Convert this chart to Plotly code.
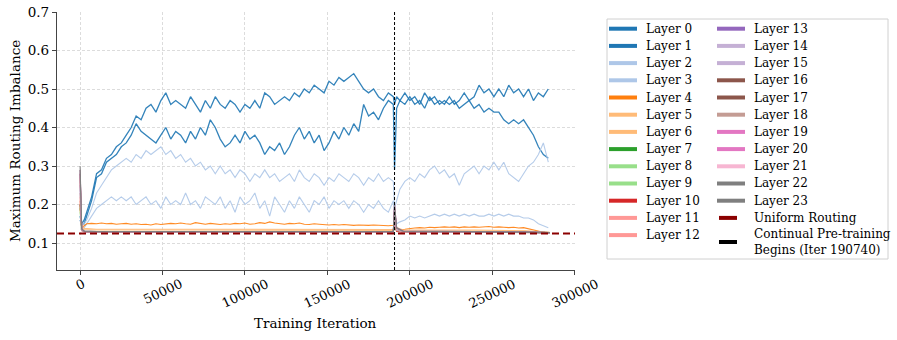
import plotly.graph_objects as go

# iteration grid for the detailed layers (before / after the restart)
iters_pre = [0, 1000, 2500, 4000] + list(range(7000, 190001, 3000))
iters_post = [190740, 192000] + list(range(194000, 284001, 3000))
iters = iters_pre + iters_post

layer0 = [
    0.17, 0.15, 0.16, 0.18, 0.22, 0.28, 0.29, 0.32, 0.33, 0.35, 0.36,
    0.38, 0.40, 0.43, 0.42, 0.45, 0.46, 0.44, 0.47, 0.49, 0.46, 0.47,
    0.46, 0.45, 0.48, 0.46, 0.44, 0.47, 0.45, 0.48, 0.46, 0.45, 0.47,
    0.46, 0.44, 0.46, 0.45, 0.47, 0.45, 0.49, 0.48, 0.46, 0.47, 0.48,
    0.47, 0.49, 0.48, 0.50, 0.49, 0.51, 0.50, 0.49, 0.52, 0.51, 0.53,
    0.52, 0.53, 0.54, 0.52, 0.50, 0.49, 0.50, 0.48, 0.47, 0.49, 0.48,
    0.46, 0.48, 0.47, 0.49, 0.47, 0.48, 0.46, 0.49, 0.47, 0.48, 0.46,
    0.47, 0.46, 0.47, 0.45, 0.46, 0.47, 0.45, 0.46, 0.44, 0.45, 0.44,
    0.44, 0.42, 0.41, 0.42, 0.41, 0.42, 0.40, 0.38, 0.35, 0.33, 0.32,
]
layer1 = [
    0.16, 0.15, 0.15, 0.17, 0.21, 0.27, 0.28, 0.31, 0.32, 0.33, 0.35,
    0.36, 0.38, 0.41, 0.39, 0.38, 0.37, 0.36, 0.38, 0.40, 0.37, 0.39,
    0.38, 0.36, 0.39, 0.37, 0.40, 0.38, 0.42, 0.40, 0.37, 0.35, 0.36,
    0.38, 0.36, 0.39, 0.37, 0.38, 0.36, 0.33, 0.35, 0.34, 0.36, 0.33,
    0.35, 0.38, 0.40, 0.37, 0.39, 0.36, 0.38, 0.34, 0.36, 0.39, 0.37,
    0.40, 0.38, 0.41, 0.39, 0.46, 0.43, 0.44, 0.42, 0.45, 0.47, 0.46,
    0.29, 0.45, 0.47, 0.46, 0.48, 0.46, 0.47, 0.45, 0.48, 0.46, 0.47,
    0.46, 0.48, 0.46, 0.47, 0.49, 0.47, 0.48, 0.51, 0.49, 0.50, 0.48,
    0.50, 0.48, 0.51, 0.49, 0.50, 0.48, 0.50, 0.47, 0.49, 0.48, 0.50,
]
layer2 = [
    0.17, 0.15, 0.15, 0.16, 0.19, 0.23, 0.25, 0.27, 0.29, 0.30, 0.31,
    0.32, 0.31, 0.33, 0.32, 0.34, 0.33, 0.34, 0.35, 0.33, 0.34, 0.32,
    0.33, 0.31, 0.32, 0.30, 0.31, 0.29, 0.30, 0.28, 0.30, 0.28, 0.29,
    0.27, 0.29, 0.28, 0.26, 0.28, 0.27, 0.29, 0.27, 0.28, 0.26, 0.27,
    0.28, 0.26, 0.29, 0.27, 0.26, 0.28, 0.27, 0.25, 0.27, 0.26, 0.28,
    0.27, 0.26, 0.28, 0.27, 0.25, 0.27, 0.26, 0.28, 0.26, 0.27, 0.26,
    0.19, 0.21, 0.24, 0.26, 0.27, 0.26, 0.28, 0.27, 0.29, 0.30, 0.28,
    0.29, 0.27, 0.28, 0.25, 0.28, 0.29, 0.30, 0.28, 0.30, 0.29, 0.31,
    0.29, 0.31, 0.28, 0.27, 0.26, 0.28, 0.30, 0.31, 0.33, 0.36, 0.31,
]
layer3 = [
    0.16, 0.14, 0.14, 0.15, 0.17, 0.19, 0.20, 0.21, 0.22, 0.21, 0.22,
    0.21, 0.22, 0.20, 0.21, 0.22, 0.20, 0.21, 0.19, 0.22, 0.20, 0.21,
    0.20, 0.23, 0.20, 0.21, 0.19, 0.22, 0.21, 0.20, 0.22, 0.19, 0.21,
    0.18, 0.22, 0.20, 0.21, 0.23, 0.19, 0.21, 0.17, 0.22, 0.20, 0.18,
    0.21, 0.19, 0.22, 0.20, 0.18, 0.21, 0.20, 0.22, 0.19, 0.21, 0.20,
    0.21, 0.19, 0.21, 0.20, 0.18, 0.20, 0.19, 0.21, 0.19, 0.18, 0.21,
    0.17, 0.15, 0.155, 0.16, 0.17, 0.165, 0.17, 0.165, 0.17, 0.175, 0.17,
    0.175, 0.17, 0.175, 0.17, 0.175, 0.17, 0.175, 0.17, 0.17, 0.175, 0.17,
    0.175, 0.17, 0.175, 0.17, 0.17, 0.165, 0.165, 0.16, 0.15, 0.145, 0.14,
]
layer4 = [
    0.19, 0.14, 0.145, 0.15, 0.151, 0.15, 0.152, 0.15, 0.151, 0.149, 0.15,
    0.151, 0.149, 0.15, 0.148, 0.149, 0.147, 0.15, 0.148, 0.149, 0.151, 0.15,
    0.152, 0.15, 0.149, 0.153, 0.15, 0.149, 0.151, 0.15, 0.148, 0.15, 0.149,
    0.151, 0.15, 0.152, 0.149, 0.15, 0.153, 0.151, 0.155, 0.152, 0.15, 0.149,
    0.151, 0.15, 0.152, 0.149, 0.148, 0.15, 0.149, 0.148, 0.147, 0.148, 0.147,
    0.148, 0.147, 0.146, 0.147, 0.146, 0.146, 0.147, 0.146, 0.146, 0.145, 0.146,
    0.16, 0.137, 0.135, 0.136, 0.138, 0.139, 0.14, 0.139, 0.141, 0.14, 0.141,
    0.142, 0.141, 0.142, 0.14, 0.142, 0.141, 0.142, 0.141, 0.142, 0.143, 0.141,
    0.142, 0.141, 0.14, 0.141, 0.139, 0.14, 0.137, 0.133, 0.13, 0.128, 0.127,
]

# the remaining layers sit almost flat just above uniform routing
iters_flat = [0, 1000, 2500, 10000, 60000, 120000, 180000, 190000,
              190740, 192000, 196000, 240000, 270000, 285000]
layer5 = [0.23, 0.145, 0.138, 0.136, 0.136, 0.136, 0.135, 0.135, 0.17, 0.14, 0.134, 0.134, 0.132, 0.128]
layer6 = [0.21, 0.14, 0.135, 0.134, 0.134, 0.134, 0.133, 0.133, 0.16, 0.137, 0.132, 0.132, 0.131, 0.127]
layer7 = [0.20, 0.133, 0.13, 0.129, 0.129, 0.129, 0.129, 0.129, 0.15, 0.132, 0.129, 0.129, 0.128, 0.127]
layer8 = [0.19, 0.134, 0.131, 0.13, 0.13, 0.13, 0.13, 0.13, 0.15, 0.133, 0.13, 0.13, 0.129, 0.127]
layer9 = [0.18, 0.133, 0.13, 0.129, 0.129, 0.129, 0.129, 0.129, 0.14, 0.131, 0.129, 0.129, 0.128, 0.127]
layer10 = [0.20, 0.132, 0.129, 0.128, 0.128, 0.128, 0.128, 0.128, 0.15, 0.13, 0.128, 0.128, 0.128, 0.127]
layer11 = [0.22, 0.134, 0.13, 0.129, 0.129, 0.129, 0.129, 0.129, 0.17, 0.135, 0.13, 0.129, 0.128, 0.127]
layer12 = [0.21, 0.133, 0.13, 0.129, 0.129, 0.129, 0.129, 0.129, 0.16, 0.134, 0.129, 0.129, 0.128, 0.127]
layer13 = [0.25, 0.135, 0.13, 0.129, 0.129, 0.129, 0.129, 0.129, 0.18, 0.136, 0.13, 0.129, 0.128, 0.127]
layer14 = [0.24, 0.134, 0.13, 0.129, 0.129, 0.129, 0.129, 0.129, 0.17, 0.135, 0.13, 0.129, 0.128, 0.127]
layer15 = [0.23, 0.133, 0.129, 0.128, 0.128, 0.128, 0.128, 0.128, 0.16, 0.134, 0.129, 0.128, 0.128, 0.127]
layer16 = [0.28, 0.136, 0.13, 0.129, 0.129, 0.129, 0.129, 0.129, 0.19, 0.137, 0.13, 0.129, 0.128, 0.127]
layer17 = [0.27, 0.135, 0.13, 0.129, 0.129, 0.129, 0.129, 0.129, 0.18, 0.136, 0.13, 0.129, 0.128, 0.127]
layer18 = [0.26, 0.134, 0.13, 0.129, 0.129, 0.129, 0.129, 0.129, 0.18, 0.135, 0.13, 0.129, 0.128, 0.127]
layer19 = [0.29, 0.137, 0.131, 0.13, 0.13, 0.13, 0.13, 0.13, 0.20, 0.14, 0.131, 0.13, 0.129, 0.127]
layer20 = [0.28, 0.136, 0.13, 0.129, 0.129, 0.129, 0.129, 0.129, 0.19, 0.138, 0.13, 0.129, 0.128, 0.127]
layer21 = [0.27, 0.135, 0.13, 0.129, 0.129, 0.129, 0.129, 0.129, 0.18, 0.136, 0.13, 0.129, 0.128, 0.127]
layer22 = [0.30, 0.137, 0.131, 0.13, 0.13, 0.13, 0.13, 0.13, 0.20, 0.14, 0.131, 0.13, 0.129, 0.127]
layer23 = [0.29, 0.136, 0.13, 0.129, 0.129, 0.129, 0.129, 0.129, 0.19, 0.138, 0.13, 0.129, 0.128, 0.127]

detailed = [layer0, layer1, layer2, layer3, layer4]
flat = [layer5, layer6, layer7, layer8, layer9, layer10, layer11, layer12, layer13,
        layer14, layer15, layer16, layer17, layer18, layer19, layer20, layer21,
        layer22, layer23]

layer_colors = ['#1f77b4', '#1f77b4', '#aec7e8', '#aec7e8', '#ff7f0e', '#ffbb78',
                '#ffbb78', '#2ca02c', '#98df8a', '#98df8a', '#d62728', '#ff9896',
                '#ff9896', '#9467bd', '#c5b0d5', '#c5b0d5', '#8c564b', '#8c564b',
                '#c49c94', '#e377c2', '#e377c2', '#f7b6d2', '#7f7f7f', '#7f7f7f']

uniform_level = 0.125
restart_iter = 190740
x_ticks = [0, 50000, 100000, 150000, 200000, 250000, 300000]
y_ticks = [0.1, 0.2, 0.3, 0.4, 0.5, 0.6, 0.7]

FONT = 'DejaVu Serif'
W, H = 897, 340
L, R, T, B = 57, 322, 12, 70
pw, ph = W - L - R, H - T - B

fig = go.Figure()

for i, ys in enumerate(detailed):
    fig.add_trace(go.Scatter(x=iters, y=ys, mode='lines', name=f'Layer {i}',
                             line=dict(color=layer_colors[i], width=1.3 if i < 2 else 1.1),
                             opacity=0.9, showlegend=False))
for j, ys in enumerate(flat):
    i = j + len(detailed)
    fig.add_trace(go.Scatter(x=iters_flat, y=ys, mode='lines', name=f'Layer {i}',
                             line=dict(color=layer_colors[i], width=1.1),
                             opacity=0.9, showlegend=False))

fig.add_vline(x=restart_iter, line=dict(color='black', width=1, dash='3px,2px'))
fig.add_hline(y=uniform_level, line=dict(color='#8b0000', width=2, dash='7px,4px'))

# x tick labels, centred and rotated like the original
for t in x_ticks:
    fig.add_annotation(x=t, xref='x', y=0, yref='paper', text=str(t),
                       textangle=-25, showarrow=False, xanchor='center',
                       yanchor='top', yshift=-3,
                       font=dict(family=FONT, size=13, color='black'))

def px_x(p):
    return (p - L) / pw

def px_y(p):
    return (H - B - p) / ph

fig.add_annotation(x=px_x(315), xref='paper', y=px_y(323), yref='paper',
                   text='Training Iteration', showarrow=False,
                   xanchor='center', yanchor='middle',
                   font=dict(family=FONT, size=13.5, color='black'))
fig.add_annotation(x=px_x(15), xref='paper', y=0.5, yref='paper',
                   text='Maximum Routing Imbalance', textangle=-90, showarrow=False,
                   xanchor='center', yanchor='middle',
                   font=dict(family=FONT, size=13.5, color='black'))

# hand-built two column legend
fig.add_shape(type='rect', xref='paper', yref='paper',
              x0=px_x(607), x1=px_x(888), y0=px_y(19), y1=px_y(259),
              line=dict(color='#d0d0d0', width=1), fillcolor='white')

labels = [f'Layer {i}' for i in range(24)]
for i, lab in enumerate(labels):
    col, row = (0, i) if i < 13 else (1, i - 13)
    lx = 609 if col == 0 else 717
    ly = 28.7 + row * 17.2
    fig.add_shape(type='line', xref='paper', yref='paper',
                  x0=px_x(lx), x1=px_x(lx + 28), y0=px_y(ly), y1=px_y(ly),
                  line=dict(color=layer_colors[i], width=4))
    fig.add_annotation(x=px_x(lx + 35), y=px_y(ly), xref='paper', yref='paper',
                       text=lab, showarrow=False, xanchor='left', yanchor='middle',
                       font=dict(family=FONT, size=12, color='black'))

ly = 28.7 + 11 * 17.2
fig.add_shape(type='line', xref='paper', yref='paper',
              x0=px_x(719), x1=px_x(737), y0=px_y(ly), y1=px_y(ly),
              line=dict(color='#8b0000', width=4))
fig.add_annotation(x=px_x(752), y=px_y(ly), xref='paper', yref='paper',
                   text='Uniform Routing', showarrow=False, xanchor='left',
                   yanchor='middle', font=dict(family=FONT, size=12, color='black'))
fig.add_shape(type='line', xref='paper', yref='paper',
              x0=px_x(719), x1=px_x(737), y0=px_y(242), y1=px_y(242),
              line=dict(color='black', width=4))
fig.add_annotation(x=px_x(752), y=px_y(242), xref='paper', yref='paper',
                   text='Continual Pre-training<br>Begins (Iter 190740)', showarrow=False,
                   xanchor='left', yanchor='middle', align='left',
                   font=dict(family=FONT, size=12, color='black'))

axis_common = dict(showgrid=True, gridcolor='#dcdcdc', griddash='3px,2px', gridwidth=0.8,
                   showline=True, linecolor='#444444', linewidth=1.3, automargin=False,
                   ticks='outside', ticklen=4, tickcolor='#444444', zeroline=False,
                   tickfont=dict(family=FONT, size=13.5, color='black'))

fig.update_layout(
    width=W, height=H,
    margin=dict(l=L, r=R, t=T, b=B),
    plot_bgcolor='white', paper_bgcolor='white',
    showlegend=False,
    font=dict(family=FONT),
    xaxis=dict(range=[-14000, 300200], tickvals=x_ticks, showticklabels=False,
               **axis_common),
    yaxis=dict(range=[0.03, 0.7], tickvals=y_ticks, tickformat='.1f', **axis_common),
)

# drop the browser's default body margin so the figure sits at the page origin
fig.write_html('out.html', config={'displayModeBar': False},
               post_script="document.body.style.margin='0';")
